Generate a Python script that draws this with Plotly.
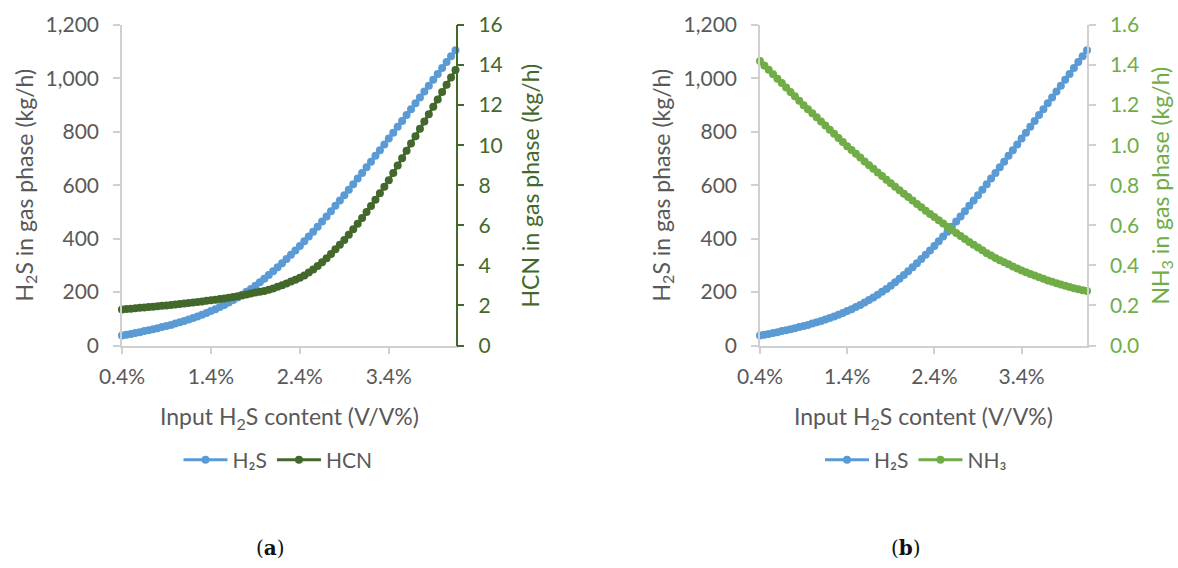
import plotly.graph_objects as go

# Input H2S content, % (V/V), 0.40 ... 4.15 in steps of 0.05
h2s_input = [round(0.40 + 0.05 * i, 2) for i in range(76)]

h2s_gas = [
    37, 40, 43, 47, 50, 54, 57, 61, 65, 69,
    73, 77, 82, 87, 92, 97, 103, 109, 115, 122,
    129, 136, 144, 152, 161, 170, 180, 190, 201, 212,
    224, 237, 250, 264, 278, 293, 308, 324, 340, 356,
    373, 390, 408, 426, 445, 464, 483, 503, 523, 543,
    563, 583, 604, 625, 646, 667, 688, 710, 731, 753,
    775, 797, 819, 841, 863, 885, 907, 929, 951, 973,
    995, 1017, 1039, 1061, 1083, 1105,
]

hcn_gas = [
    1.80, 1.82, 1.84, 1.86, 1.88, 1.90, 1.92, 1.94, 1.96, 1.98,
    2.00, 2.02, 2.05, 2.07, 2.10, 2.12, 2.15, 2.17, 2.20, 2.23,
    2.26, 2.29, 2.32, 2.35, 2.38, 2.42, 2.46, 2.50, 2.54, 2.59,
    2.64, 2.68, 2.72, 2.78, 2.85, 2.93, 3.01, 3.10, 3.19, 3.28,
    3.38, 3.50, 3.64, 3.80, 3.97, 4.16, 4.36, 4.57, 4.80, 5.03,
    5.27, 5.53, 5.80, 6.08, 6.37, 6.67, 6.97, 7.28, 7.60, 7.92,
    8.25, 8.61, 8.98, 9.35, 9.72, 10.08, 10.45, 10.82, 11.18, 11.55,
    11.92, 12.28, 12.65, 13.02, 13.38, 13.75,
]

nh3_gas = [
    1.420, 1.398, 1.376, 1.354, 1.332, 1.310, 1.288, 1.266, 1.244, 1.222,
    1.200, 1.180, 1.159, 1.139, 1.118, 1.098, 1.077, 1.057, 1.036, 1.016,
    0.995, 0.976, 0.957, 0.938, 0.919, 0.900, 0.882, 0.864, 0.846, 0.828,
    0.810, 0.792, 0.775, 0.758, 0.741, 0.724, 0.707, 0.690, 0.673, 0.657,
    0.641, 0.625, 0.609, 0.593, 0.577, 0.562, 0.547, 0.532, 0.517, 0.503,
    0.489, 0.475, 0.461, 0.449, 0.437, 0.426, 0.415, 0.405, 0.395, 0.385,
    0.375, 0.366, 0.357, 0.349, 0.341, 0.333, 0.325, 0.318, 0.311, 0.304,
    0.298, 0.292, 0.286, 0.281, 0.276, 0.272,
]

x_tickvals = [0.4, 1.4, 2.4, 3.4]
x_ticktext = ["0.4%", "1.4%", "2.4%", "3.4%"]

BLUE = "#5B9BD5"
DARK_GREEN = "#43682B"
LIGHT_GREEN = "#70AD47"
TEXT = "#595959"
AXIS = "#D0D0D0"
FONT = "Lato"
FS = 21        # tick labels and legend
FS_TITLE = 23  # axis titles

W, H = 1178, 568


def px_x(p):
    return p / W


def px_y(p):
    return 1 - p / H


fig = go.Figure()


def series(x, y, name, color, xa, ya, legend):
    return go.Scatter(
        x=x, y=y, name=name, mode="lines+markers",
        line=dict(color=color, width=3),
        marker=dict(color=color, size=8),
        xaxis=xa, yaxis=ya, legend=legend, cliponaxis=False,
    )


# (a) H2S and HCN
fig.add_trace(series(h2s_input, h2s_gas, "H₂S", BLUE, "x", "y", "legend"))
fig.add_trace(series(h2s_input, hcn_gas, "HCN", DARK_GREEN, "x", "y2", "legend"))
# (b) H2S and NH3
fig.add_trace(series(h2s_input, h2s_gas, "H₂S", BLUE, "x2", "y3", "legend2"))
fig.add_trace(series(h2s_input, nh3_gas, "NH₃", LIGHT_GREEN, "x2", "y4", "legend2"))

a_left, a_right = 122, 455.5
b_left, b_right = 760, 1087
top, bottom = 25, 345.5

tickfont = dict(family=FONT, size=FS, color=TEXT)

xcommon = dict(
    range=[0.4, 4.15], tickvals=x_tickvals, ticktext=x_ticktext,
    showgrid=False, zeroline=False, showline=True, linecolor=AXIS, linewidth=1.5,
    ticks="outside", ticklen=7, tickcolor=AXIS, tickwidth=1.5,
    tickfont=tickfont, ticklabelstandoff=5, fixedrange=True, automargin=False,
)
ycommon = dict(
    range=[0, 1200], tickvals=[0, 200, 400, 600, 800, 1000, 1200],
    tickformat=",d", showgrid=False, zeroline=False, showline=True,
    linecolor=AXIS, linewidth=1.5, ticks="outside", ticklen=7,
    tickcolor=AXIS, tickwidth=1.5, tickfont=tickfont, ticklabelstandoff=10,
    domain=[px_y(bottom), px_y(top)], fixedrange=True, automargin=False,
)

fig.update_layout(
    width=W, height=H,
    margin=dict(l=0, r=0, t=0, b=0, autoexpand=False),
    paper_bgcolor="white", plot_bgcolor="white",
    separators=".,",
    showlegend=True,
    xaxis=dict(xcommon, domain=[px_x(a_left), px_x(a_right)], anchor="y"),
    xaxis2=dict(xcommon, domain=[px_x(b_left), px_x(b_right)], anchor="y3"),
    yaxis=dict(ycommon, anchor="x"),
    yaxis2=dict(
        range=[0, 16], tickvals=list(range(0, 17, 2)), overlaying="y", side="right",
        anchor="x", showgrid=False, zeroline=False, showline=True,
        linecolor=DARK_GREEN, linewidth=1.5, ticks="outside", ticklen=7,
        tickcolor=DARK_GREEN, tickwidth=1.5,
        tickfont=dict(family=FONT, size=FS, color=DARK_GREEN),
        ticklabelstandoff=10, fixedrange=True, automargin=False,
    ),
    yaxis3=dict(ycommon, anchor="x2"),
    yaxis4=dict(
        range=[0, 1.6], tickvals=[0, 0.2, 0.4, 0.6, 0.8, 1.0, 1.2, 1.4, 1.6],
        tickformat=".1f", overlaying="y3", side="right", anchor="x2",
        showgrid=False, zeroline=False, showline=True, linecolor=AXIS,
        linewidth=1.5, ticks="outside", ticklen=7, tickcolor=AXIS, tickwidth=1.5,
        tickfont=dict(family=FONT, size=FS, color=LIGHT_GREEN),
        ticklabelstandoff=10, fixedrange=True, automargin=False,
    ),
    legend=dict(
        orientation="h", x=px_x(278), y=px_y(460), xanchor="center", yanchor="middle",
        font=dict(family=FONT, size=FS, color=TEXT), bgcolor="rgba(0,0,0,0)",
        itemwidth=44,
    ),
    legend2=dict(
        orientation="h", x=px_x(916), y=px_y(460), xanchor="center", yanchor="middle",
        font=dict(family=FONT, size=FS, color=TEXT), bgcolor="rgba(0,0,0,0)",
        itemwidth=44,
    ),
)

ann_font = dict(family=FONT, size=FS_TITLE, color=TEXT)
annotations = [
    # y-axis titles
    dict(text="H<sub>2</sub>S in gas phase (kg/h)", x=px_x(25), y=px_y(185.5),
         textangle=-90, font=ann_font),
    dict(text="HCN in gas phase (kg/h)", x=px_x(529), y=px_y(185.5),
         textangle=-90, font=dict(family=FONT, size=FS_TITLE, color=DARK_GREEN)),
    dict(text="H<sub>2</sub>S in gas phase (kg/h)", x=px_x(662), y=px_y(185.5),
         textangle=-90, font=ann_font),
    dict(text="NH<sub>3</sub> in gas phase (kg/h)", x=px_x(1161), y=px_y(185.5),
         textangle=-90, font=dict(family=FONT, size=FS_TITLE, color=LIGHT_GREEN)),
    # x-axis titles
    dict(text="Input H<sub>2</sub>S content (V/V%)", x=px_x(289), y=px_y(417),
         font=ann_font),
    dict(text="Input H<sub>2</sub>S content (V/V%)", x=px_x(923), y=px_y(417),
         font=ann_font),
    # panel captions
    dict(text="(<b>a</b>)", x=px_x(270), y=px_y(548),
         font=dict(family="DejaVu Serif", size=20, color="#111111")),
    dict(text="(<b>b</b>)", x=px_x(906), y=px_y(548),
         font=dict(family="DejaVu Serif", size=20, color="#111111")),
]
for a in annotations:
    a.update(xref="paper", yref="paper", showarrow=False, xanchor="center", yanchor="middle")
fig.update_layout(annotations=annotations)

fig.write_html("out.html")
